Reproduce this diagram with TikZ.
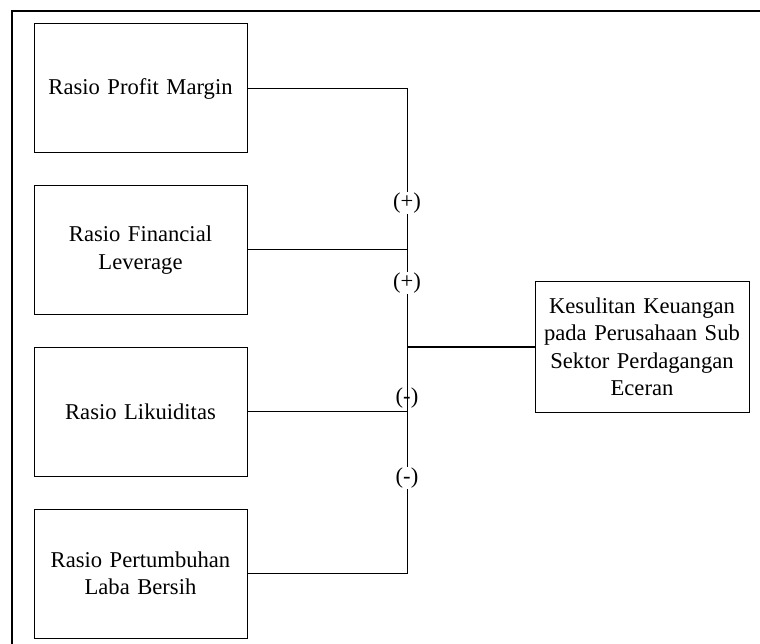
\documentclass[tikz,border=0pt]{standalone}
\usepackage{fontspec}
\setmainfont{Liberation Serif}
\begin{document}
\begin{tikzpicture}[x=1pt,y=-1pt,
  varbox/.style={draw, line width=1pt, minimum width=213pt, minimum height=129pt, align=center, inner sep=0pt, text width=205pt},
  sign/.style={fill=white, inner sep=1pt},
  conn/.style={line width=1pt},
  every node/.style={font=\fontsize{22.6}{27.5}\selectfont}]
\useasboundingbox (0,0) rectangle (760,644);
\draw[line width=1.6pt] (12,644) -- (12,11) -- (760,11);
\node[varbox] (b1) at (140.5,88.5) {Rasio Profit Margin};
\node[varbox] (b2) at (140.5,250) {Rasio Financial\\Leverage};
\node[varbox] (b3) at (140.5,411.5) {Rasio Likuiditas};
\node[varbox] (b4) at (140.5,573.5) {Rasio Pertumbuhan\\Laba Bersih};
\node[varbox, minimum width=214pt, minimum height=130pt] (t) at (642,347) {Kesulitan Keuangan\\pada Perusahaan Sub\\Sektor Perdagangan\\Eceran};
\coordinate (j1) at (407,88.5);
\coordinate (j2) at (407,250);
\coordinate (j3) at (407,411.5);
\coordinate (j4) at (407,573.5);
\coordinate (jt) at (407,347);
\draw[conn] (b1.east) -- (j1) -- (j4) -- (b4.east);
\draw[conn] (b2.east) -- (j2);
\draw[conn] (b3.east) -- (j3);
\draw[line width=1.3pt] (jt) -- (t.west);
\node[sign] (s1) at (407,203) {(+)};
\node[sign] (s2) at (407,283) {(+)};
\node[inner sep=1pt] (s3) at (407,398) {(-)};
\node[sign] (s4) at (407,478) {(-)};
\end{tikzpicture}
\end{document}
